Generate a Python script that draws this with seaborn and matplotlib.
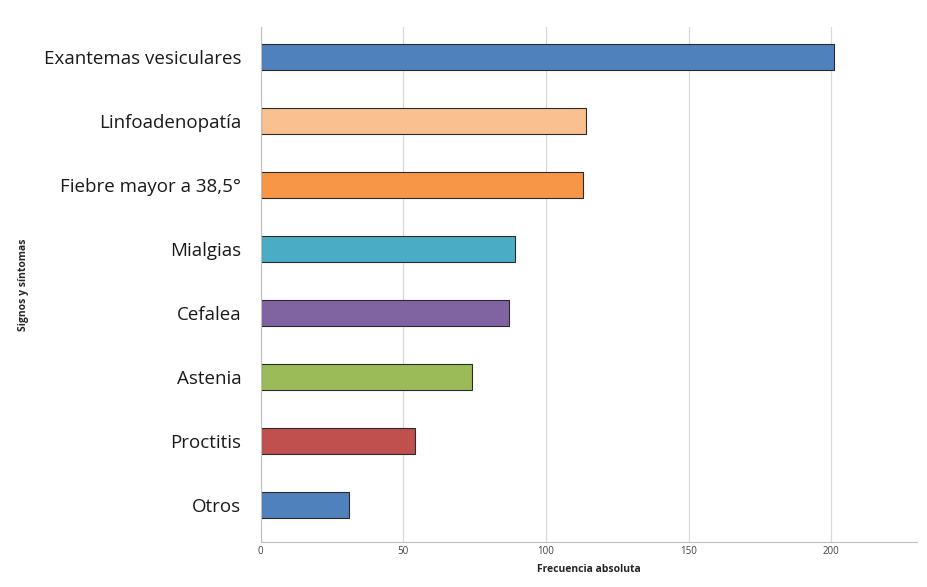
import matplotlib
matplotlib.use("Agg")
import matplotlib.pyplot as plt
import seaborn as sns
import pandas as pd

# datos del gráfico
categorias = ["Exantemas vesiculares", "Linfoadenopatía", "Fiebre mayor a 38,5°",
              "Mialgias", "Cefalea", "Astenia", "Proctitis", "Otros"]
frecuencias = [201, 114, 113, 89, 87, 74, 54, 31]
colores = ["#4F81BD", "#FAC090", "#F79646", "#4BACC6",
           "#8064A2", "#9BBB59", "#C0504D", "#4F81BD"]
x_ticks = [0, 50, 100, 150, 200]

df = pd.DataFrame({"sintoma": categorias, "frecuencia": frecuencias})

sns.set_style("white")
plt.rcParams['font.family'] = ['Open Sans', 'DejaVu Sans']

fig = plt.figure(figsize=(9.28, 5.87), dpi=100)
ax = fig.add_axes([0.281, 0.077, 0.707, 0.877])

sns.barplot(data=df, y="sintoma", x="frecuencia", hue="sintoma",
            palette=dict(zip(categorias, colores)), legend=False, saturation=1,
            orient="h", width=0.41, edgecolor="#2b2b2b", linewidth=0.8, ax=ax)

ax.set_xlim(0, 230)
ax.set_ylim(7.58, -0.47)
ax.set_xticks(x_ticks)
ax.set_xticklabels([str(t) for t in x_ticks], fontsize=7, color="#404040")
ax.tick_params(axis="y", labelsize=13.5, length=0, pad=14, labelcolor="#1a1a1a")
ax.tick_params(axis="x", length=0, pad=3)

ax.grid(axis="x", color="#D9D9D9", linewidth=0.9)
ax.set_axisbelow(True)
for s in ["top", "right"]:
    ax.spines[s].set_visible(False)
ax.spines["left"].set_color("#BFBFBF")
ax.spines["bottom"].set_color("#BFBFBF")

ax.set_xlabel("Frecuencia absoluta", fontsize=7.5, fontweight="bold", labelpad=5)
ax.set_ylabel("Signos y síntomas", fontsize=7.5, fontweight="bold")
ax.yaxis.set_label_coords(-0.354, 0.5)

fig.savefig("out.png", dpi=100)
